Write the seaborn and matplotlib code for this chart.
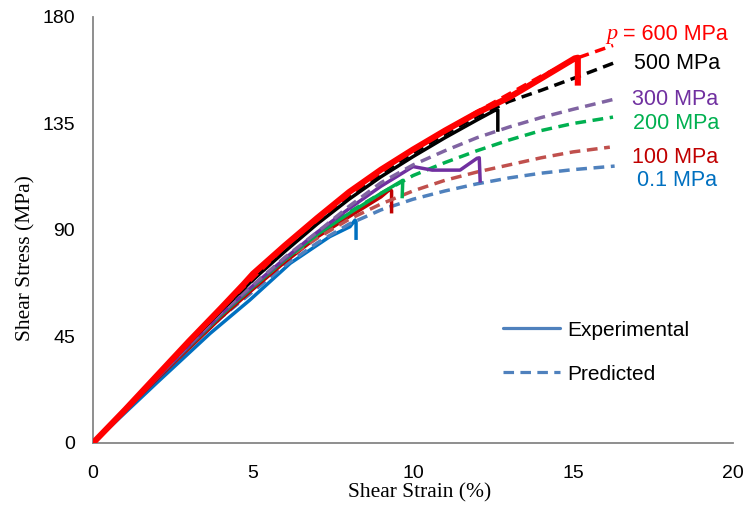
import matplotlib
matplotlib.use("Agg")
import matplotlib.pyplot as plt
from matplotlib.lines import Line2D
import seaborn as sns
import pandas as pd

# ---- experimental curves (shear strain %, shear stress MPa) ----
exp_01_x = [0, 2, 3.66, 4.9, 6.16, 7.4, 8.03, 8.19, 8.22, 8.22]
exp_01_y = [0, 25.5, 46.3, 60.4, 75.9, 87.2, 91.4, 94.2, 93.5, 85.8]
exp_100_x = [0, 2, 4, 5, 6, 7, 8, 9, 9.28, 9.33, 9.33]
exp_100_y = [0, 27, 53, 65, 76.5, 87, 95.6, 104, 107.2, 106.5, 97]
exp_200_x = [0, 2, 4, 5, 6, 7, 8, 9, 9.62, 9.68, 9.66]
exp_200_y = [0, 27.5, 54, 66, 77.5, 88, 97, 105.5, 110.5, 111, 103.4]
exp_300_x = [0, 2, 4, 5, 6, 7, 8, 9, 10, 10.6, 11.47, 12.0, 12.07, 12.1]
exp_300_y = [0, 27.5, 54.5, 66.5, 78, 89, 99, 108.5, 116.8, 115.3, 115.3, 120.3, 120.5, 110]
exp_500_x = [0, 2, 4, 5, 6, 7, 8, 9, 10, 11, 12, 12.55, 12.65, 12.65]
exp_500_y = [0, 28.5, 56, 69, 81, 92.5, 103, 112.5, 121, 129, 136.5, 140.5, 140.7, 131.5]
exp_600_x = [0, 1, 2, 3, 4, 4.7, 5, 6, 7, 8, 9, 10, 11, 12, 13, 14, 15.05, 15.15, 15.15]
exp_600_y = [0, 14, 28.5, 43, 57, 67, 71.5, 83.5, 95, 106, 115.5, 124, 132, 139.5, 146, 154, 162.5, 162.8, 151]

# ---- predicted curves ----
pre_01_x = [0, 2, 4, 6, 7, 8, 9, 10, 11, 12, 13, 14, 15, 16.3]
pre_01_y = [0, 27.5, 53, 75, 84.5, 92.5, 98.5, 103, 106.5, 109.5, 112, 114, 115.5, 117]
pre_100_x = [0, 2, 4, 6, 7, 8, 9, 10, 11, 12, 13, 14, 15, 16.15]
pre_100_y = [0, 28, 54.5, 77.5, 86.5, 94.5, 101, 106.5, 111, 114.5, 117.5, 120.5, 123, 125]
pre_200_x = [0, 2, 4, 6, 7, 8, 9, 10, 11, 12, 13, 14, 15, 16.25]
pre_200_y = [0, 28, 55, 78, 88.5, 97.5, 105.5, 113, 118.5, 123.5, 128, 132, 135, 137.7]
pre_300_x = [0, 2, 4, 6, 7, 8, 9, 10, 11, 12, 13, 14, 15, 16.3]
pre_300_y = [0, 28, 55, 78.5, 89, 100, 110, 117.5, 123.5, 129, 133.5, 137.5, 141, 145.3]
pre_500_x = [0, 2, 4, 6, 8, 9, 10, 11, 12, 13, 14, 15, 16.3]
pre_500_y = [0, 28.5, 56, 82, 104, 114, 122.5, 130.5, 138, 144.3, 149, 154, 160.7]
pre_600_x = [0, 2, 4, 6, 8, 10, 12, 14, 15.2, 16.25]
pre_600_y = [0, 28.5, 56.5, 83, 105, 124, 140, 155, 163, 168]

pressures = ["0.1 MPa", "100 MPa", "200 MPa", "300 MPa", "500 MPa", "600 MPa"]
exp_colors = ["#0070C0", "#C00000", "#00B050", "#7030A0", "#000000", "#FF0000"]
pre_colors = ["#4F81BD", "#C0504D", "#00B050", "#8064A2", "#000000", "#FF0000"]

exp_data = [(exp_01_x, exp_01_y), (exp_100_x, exp_100_y), (exp_200_x, exp_200_y),
            (exp_300_x, exp_300_y), (exp_500_x, exp_500_y), (exp_600_x, exp_600_y)]
pre_data = [(pre_01_x, pre_01_y), (pre_100_x, pre_100_y), (pre_200_x, pre_200_y),
            (pre_300_x, pre_300_y), (pre_500_x, pre_500_y), (pre_600_x, pre_600_y)]

sns.set_theme(style="white")
plt.rcParams['font.family'] = ['Liberation Sans', 'DejaVu Sans']
plt.rcParams['text.color'] = 'black'
plt.rcParams['axes.labelcolor'] = 'black'

fig = plt.figure(figsize=(7.47, 5.12), dpi=100)
ax = fig.add_axes([0.1245, 0.1348, 0.8568, 0.832])

GRAY = "#868686"
for i, p in enumerate(pressures):
    ex, ey = exp_data[i]
    px, py = pre_data[i]
    df_e = pd.DataFrame({"strain": ex, "stress": ey})
    df_p = pd.DataFrame({"strain": px, "stress": py})
    sns.lineplot(data=df_e, x="strain", y="stress", ax=ax, sort=False, estimator=None,
                 color=exp_colors[i], lw=4.4 if p == "600 MPa" else 2.5,
                 solid_capstyle="butt", zorder=2 + i)
    sns.lineplot(data=df_p, x="strain", y="stress", ax=ax, sort=False, estimator=None,
                 color=pre_colors[i], lw=2.5, linestyle=(0, (3.1, 1.9)),
                 dash_capstyle="butt", zorder=2 + i)

ax.set_xlim(0, 20)
ax.set_ylim(0, 180)
ax.set_xticks([0, 5, 10, 15, 20])
ax.set_yticks([0, 45, 90, 135, 180])
for s in ["top", "right"]:
    ax.spines[s].set_visible(False)
for s in ["left", "bottom"]:
    ax.spines[s].set_color(GRAY)
    ax.spines[s].set_linewidth(1.3)
ax.tick_params(axis="both", which="major", direction="out", length=4, width=1.2,
               color=GRAY, labelcolor="black", labelsize=14)
ax.tick_params(axis="x", pad=12)
ax.tick_params(axis="y", pad=9)
ax.grid(False)

serif = ["Liberation Serif", "DejaVu Serif"]
ax.set_xlabel("Shear Strain (%)", family=serif, fontsize=15.5, va="center")
ax.set_ylabel("Shear Stress (MPa)", family=serif, fontsize=15.5, va="center")
ax.xaxis.set_label_coords(0.511, -0.117)
ax.yaxis.set_label_coords(-0.105, 0.435)

# pressure labels
ax.text(16.05, 172.6, "p", color="#FF0000", family=serif, style="italic",
        fontsize=16, va="center", ha="left")
ax.text(16.55, 172.6, "= 600 MPa", color="#FF0000", fontsize=15.5, va="center", ha="left")
ax.text(16.9, 160.5, "500 MPa", color="black", fontsize=15.5, va="center", ha="left")
ax.text(16.85, 145.3, "300 MPa", color="#7030A0", fontsize=15.5, va="center", ha="left")
ax.text(16.87, 134.8, "200 MPa", color="#00B050", fontsize=15.5, va="center", ha="left")
ax.text(16.85, 120.8, "100 MPa", color="#C00000", fontsize=15.5, va="center", ha="left")
ax.text(17.0, 111.1, "0.1 MPa", color="#0070C0", fontsize=15.5, va="center", ha="left")

handles = [Line2D([], [], color="#4F81BD", lw=2.3),
           Line2D([], [], color="#4F81BD", lw=2.3, linestyle=(0, (3.3, 2.0)))]
leg = ax.legend(handles, ["Experimental", "Predicted"], loc="center left",
                bbox_to_anchor=(0.612, 0.213), frameon=False, fontsize=15,
                handlelength=2.7, labelspacing=1.2, handletextpad=0.35)
for t in leg.get_texts():
    t.set_color("black")

fig.savefig("out.png", dpi=100)
